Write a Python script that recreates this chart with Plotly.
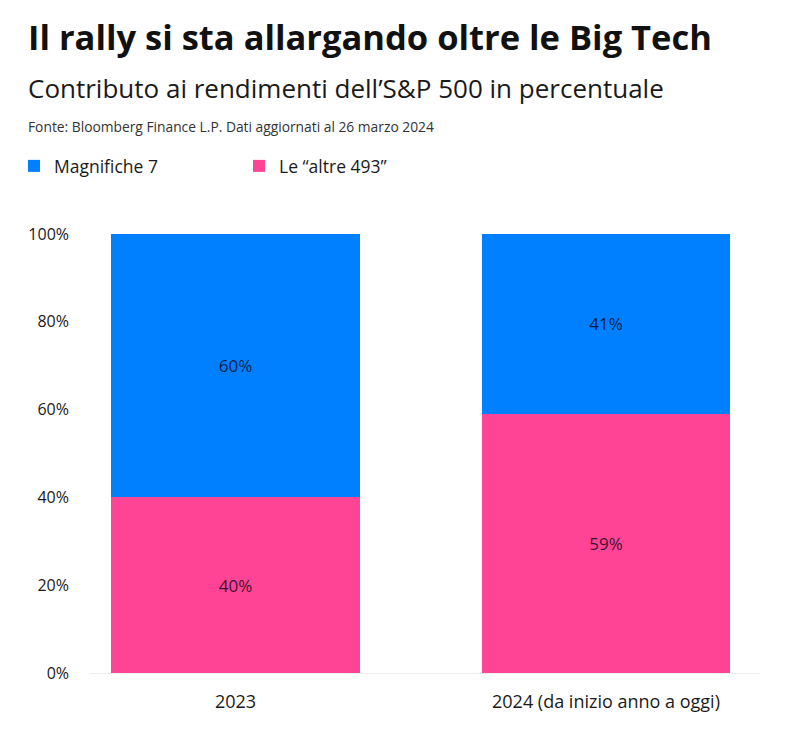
import plotly.graph_objects as go

categories = ["2023", "2024 (da inizio anno a oggi)"]
magnifiche7 = [60, 41]
altre493 = [40, 59]
y_ticks = [0, 20, 40, 60, 80, 100]
y_tick_labels = ["0%", "20%", "40%", "60%", "80%", "100%"]

BLUE = "#0080FF"
PINK = "#FF4395"
FONT = "Open Sans"

W, H = 787, 737
OFF = 8  # page body margin
# target plot area in screenshot pixels: x 90..760, y 234..673
L = 90 - OFF
T = 234 - OFF
R = W - (760 - OFF)
B = H - (673 - OFF)
PW, PH = W - L - R, H - T - B


def px_x(p):
    return (p - OFF - L) / PW


def px_y(p):
    return (H - B - (p - OFF)) / PH


fig = go.Figure()
fig.add_trace(go.Bar(
    name="Le \u201caltre 493\u201d", x=categories, y=altre493,
    marker=dict(color=PINK, line=dict(width=0)),
    text=[f"{v}%" for v in altre493], textposition="inside",
    insidetextanchor="middle", textangle=0,
    textfont=dict(family=FONT, size=17, color="rgba(20,10,20,0.85)"),
    width=0.672, hoverinfo="skip", legendrank=2,
))
fig.add_trace(go.Bar(
    name="Magnifiche 7", x=categories, y=magnifiche7,
    marker=dict(color=BLUE, line=dict(width=0)),
    text=[f"{v}%" for v in magnifiche7], textposition="inside",
    insidetextanchor="middle", textangle=0,
    textfont=dict(family=FONT, size=17, color="rgba(10,10,30,0.85)"),
    width=0.672, hoverinfo="skip", legendrank=1,
))

fig.update_layout(
    width=W, height=H,
    margin=dict(l=L, r=R, t=T, b=B, autoexpand=False),
    barmode="stack",
    paper_bgcolor="white", plot_bgcolor="white",
    font=dict(family=FONT, size=16, color="#1a1a1a"),
    showlegend=True,
    legend=dict(
        orientation="h", x=px_x(14), y=px_y(166), xanchor="left", yanchor="middle",
        font=dict(family=FONT, size=17.5, color="#1a1a1a"),
        entrywidth=180, entrywidthmode="pixels", traceorder="normal",
        itemclick=False, itemdoubleclick=False,
    ),
    xaxis=dict(
        range=[-0.3927, 1.4157], showgrid=False, zeroline=False,
        showline=True, linecolor="#ececec", linewidth=1,
        ticks="", tickfont=dict(family=FONT, size=18, color="#1a1a1a"),
        ticklabelstandoff=12, fixedrange=True,
    ),
    yaxis=dict(
        range=[0, 100], tickvals=y_ticks, ticktext=y_tick_labels,
        showgrid=False, zeroline=False, showline=False, ticks="",
        tickfont=dict(family=FONT, size=16, color="#1a1a1a"),
        ticklabelstandoff=20, fixedrange=True,
    ),
    annotations=[
        dict(text="<b>Il rally si sta allargando oltre le Big Tech</b>",
             xref="paper", yref="paper", x=px_x(26), y=px_y(37),
             xanchor="left", yanchor="middle", showarrow=False,
             font=dict(family=FONT, size=34.5, color="#111111")),
        dict(text="Contributo ai rendimenti dell\u2019S&P 500 in percentuale",
             xref="paper", yref="paper", x=px_x(26), y=px_y(88),
             xanchor="left", yanchor="middle", showarrow=False,
             font=dict(family=FONT, size=26, color="#1a1a1a")),
        dict(text="Fonte: Bloomberg Finance L.P. Dati aggiornati al 26 marzo 2024",
             xref="paper", yref="paper", x=px_x(26), y=px_y(127),
             xanchor="left", yanchor="middle", showarrow=False,
             font=dict(family=FONT, size=13.8, color="#333333")),
    ],
)

fig.write_html("out.html")
